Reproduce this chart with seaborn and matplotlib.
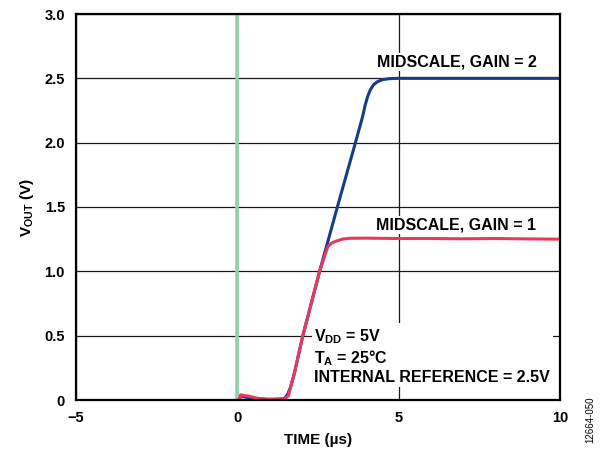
import numpy as np
import pandas as pd
import matplotlib
matplotlib.use('Agg')
import matplotlib.pyplot as plt
import seaborn as sns

# settling traces (time in us, VOUT in V)
gain2_time = [0.05, 0.12, 0.3, 0.6, 1.0, 1.45, 1.55, 1.65, 1.77, 2.03, 2.55, 3.10,
              3.66, 3.88, 3.96, 4.04, 4.12, 4.22, 4.35, 4.5, 4.7, 4.95, 6.0, 8.0, 10.0]
gain2_vout = [0.0, 0.03, 0.02, 0.01, 0.005, 0.01, 0.04, 0.1, 0.21, 0.5, 1.0, 1.5,
              2.0, 2.2, 2.29, 2.36, 2.41, 2.45, 2.475, 2.49, 2.497, 2.5, 2.5, 2.5, 2.5]

gain1_time = [0.05, 0.1, 0.2, 0.35, 0.6, 0.9, 1.2, 1.45, 1.58, 1.65, 1.77, 2.03,
              2.55, 2.80, 2.92, 3.07, 3.25, 3.48, 4.0, 5.0, 6.0, 7.0, 8.0, 9.0, 10.0]
gain1_vout = [0.0, 0.04, 0.035, 0.03, 0.015, 0.005, 0.005, 0.01, 0.03, 0.1, 0.21, 0.5,
              1.0, 1.19, 1.22, 1.235, 1.25, 1.257, 1.258, 1.255, 1.255, 1.253, 1.255,
              1.252, 1.25]

trigger_time = 0
x_ticks = [-5, 0, 5, 10]
x_labels = ['\u22125', '0', '5', '10']
y_ticks = [0, 0.5, 1.0, 1.5, 2.0, 2.5, 3.0]
y_labels = ['0', '0.5', '1.0', '1.5', '2.0', '2.5', '3.0']

sns.set_style('white')
plt.rcParams['font.family'] = ['Liberation Sans', 'DejaVu Sans']
plt.rcParams['font.weight'] = 'bold'
plt.rcParams['text.color'] = 'black'
plt.rcParams['axes.labelcolor'] = 'black'
plt.rcParams['xtick.color'] = 'black'
plt.rcParams['ytick.color'] = 'black'
plt.rcParams['mathtext.fontset'] = 'custom'
plt.rcParams['mathtext.rm'] = 'Liberation Sans:bold'
plt.rcParams['mathtext.it'] = 'Liberation Sans:bold'
plt.rcParams['mathtext.bf'] = 'Liberation Sans:bold'

fig = plt.figure(figsize=(6.05, 4.55), dpi=100)
ax = fig.add_axes([76 / 605, 55 / 455, 484 / 605, 386 / 455])

ax.axvline(trigger_time, color='#93cfb1', lw=2.6, zorder=3)

sns.lineplot(x=gain2_time, y=gain2_vout, ax=ax, color='#173c86', lw=2.2,
             sort=False, zorder=4)
sns.lineplot(x=gain1_time, y=gain1_vout, ax=ax, color='#e53a5f', lw=2.2,
             sort=False, zorder=5)

ax.set_xlim(-5, 10)
ax.set_ylim(0, 3.0)
ax.set_xticks(x_ticks)
ax.set_xticklabels(x_labels)
ax.set_yticks(y_ticks)
ax.set_yticklabels(y_labels)
ax.tick_params(length=0, labelsize=10.5, pad=8)
for lab in ax.get_xticklabels() + ax.get_yticklabels():
    lab.set_fontweight('bold')

ax.grid(True, color='#1a1a1a', lw=0.9)
for s in ax.spines.values():
    s.set_color('black')
    s.set_linewidth(1.6)
    s.set_zorder(6)

ax.set_xlabel('TIME (\u00b5s)', fontsize=11, fontweight='bold', labelpad=6)
ax.set_ylabel('V$_{\\mathrm{OUT}}$ (V)', fontsize=11, fontweight='bold', labelpad=6)

ax.text(4.32, 2.63, 'MIDSCALE, GAIN = 2', fontsize=11.5, fontweight='bold',
        ha='left', va='center', zorder=7,
        bbox=dict(facecolor='white', edgecolor='none', pad=1))
ax.text(4.31, 1.36, 'MIDSCALE, GAIN = 1', fontsize=11.5, fontweight='bold',
        ha='left', va='center', zorder=7,
        bbox=dict(facecolor='white', edgecolor='none', pad=1))
ax.text(2.39, 0.12,
        'V$_{\\mathrm{DD}}$ = 5V\nT$_{\\mathrm{A}}$ = 25\u00b0C\nINTERNAL REFERENCE = 2.5V',
        fontsize=11.5, fontweight='bold', ha='left', va='bottom', linespacing=1.15,
        zorder=7, bbox=dict(facecolor='white', edgecolor='none', pad=2))

fig.text(590 / 605, 1 - 420 / 455, '12664-050', rotation=90, fontsize=7,
         fontweight='normal', ha='center', va='center')

fig.savefig('out.png', dpi=100)
